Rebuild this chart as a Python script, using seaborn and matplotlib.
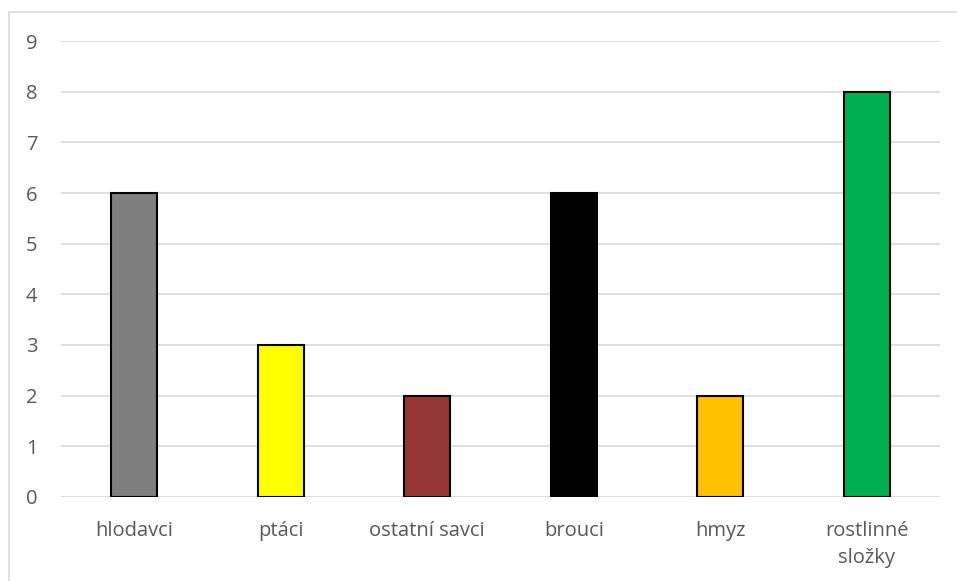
import matplotlib
matplotlib.use("Agg")
import matplotlib.pyplot as plt
import seaborn as sns
import pandas as pd
from matplotlib.patches import Rectangle

categories = ["hlodavci", "ptáci", "ostatní savci", "brouci", "hmyz", "rostlinné\nsložky"]
values = [6, 3, 2, 6, 2, 8]
colors = ["#7F7F7F", "#FFFF00", "#943634", "#000000", "#FFC000", "#00B050"]
y_ticks = list(range(0, 10))

sns.set_style("white")
plt.rcParams["font.family"] = ["Open Sans", "DejaVu Sans"]

df = pd.DataFrame({"kategorie": categories, "pocet": values})

fig = plt.figure(figsize=(9.57, 5.81), dpi=100)
ax = fig.add_axes([0.0637, 0.1446, 0.9186, 0.7848])

sns.barplot(data=df, x="kategorie", y="pocet", hue="kategorie",
            palette=colors, legend=False, width=0.314,
            edgecolor="black", linewidth=1.5, saturation=1, ax=ax, zorder=3)

ax.set_ylim(0, 9)
ax.set_yticks(y_ticks)
ax.set_xlim(-0.5, len(categories) - 0.5)
ax.yaxis.grid(True, color="#D9D9D9", linewidth=1.2, zorder=0)
ax.set_axisbelow(True)
for s in ax.spines.values():
    s.set_visible(False)
ax.set_xlabel("")
ax.set_ylabel("")
ax.tick_params(axis="both", length=0, labelcolor="#595959", labelsize=14.5)
ax.tick_params(axis="y", pad=17)
ax.tick_params(axis="x", pad=17)
for lbl in ax.get_xticklabels():
    lbl.set_linespacing(1.5)

# outer chart frame
fig.patches.append(Rectangle((9 / 957, -0.1), 1.2, 0.1 + (1 - 12 / 581),
                             transform=fig.transFigure, fill=False,
                             edgecolor="#D9D9D9", linewidth=1.2, zorder=0))

fig.savefig("out.png", dpi=100)
